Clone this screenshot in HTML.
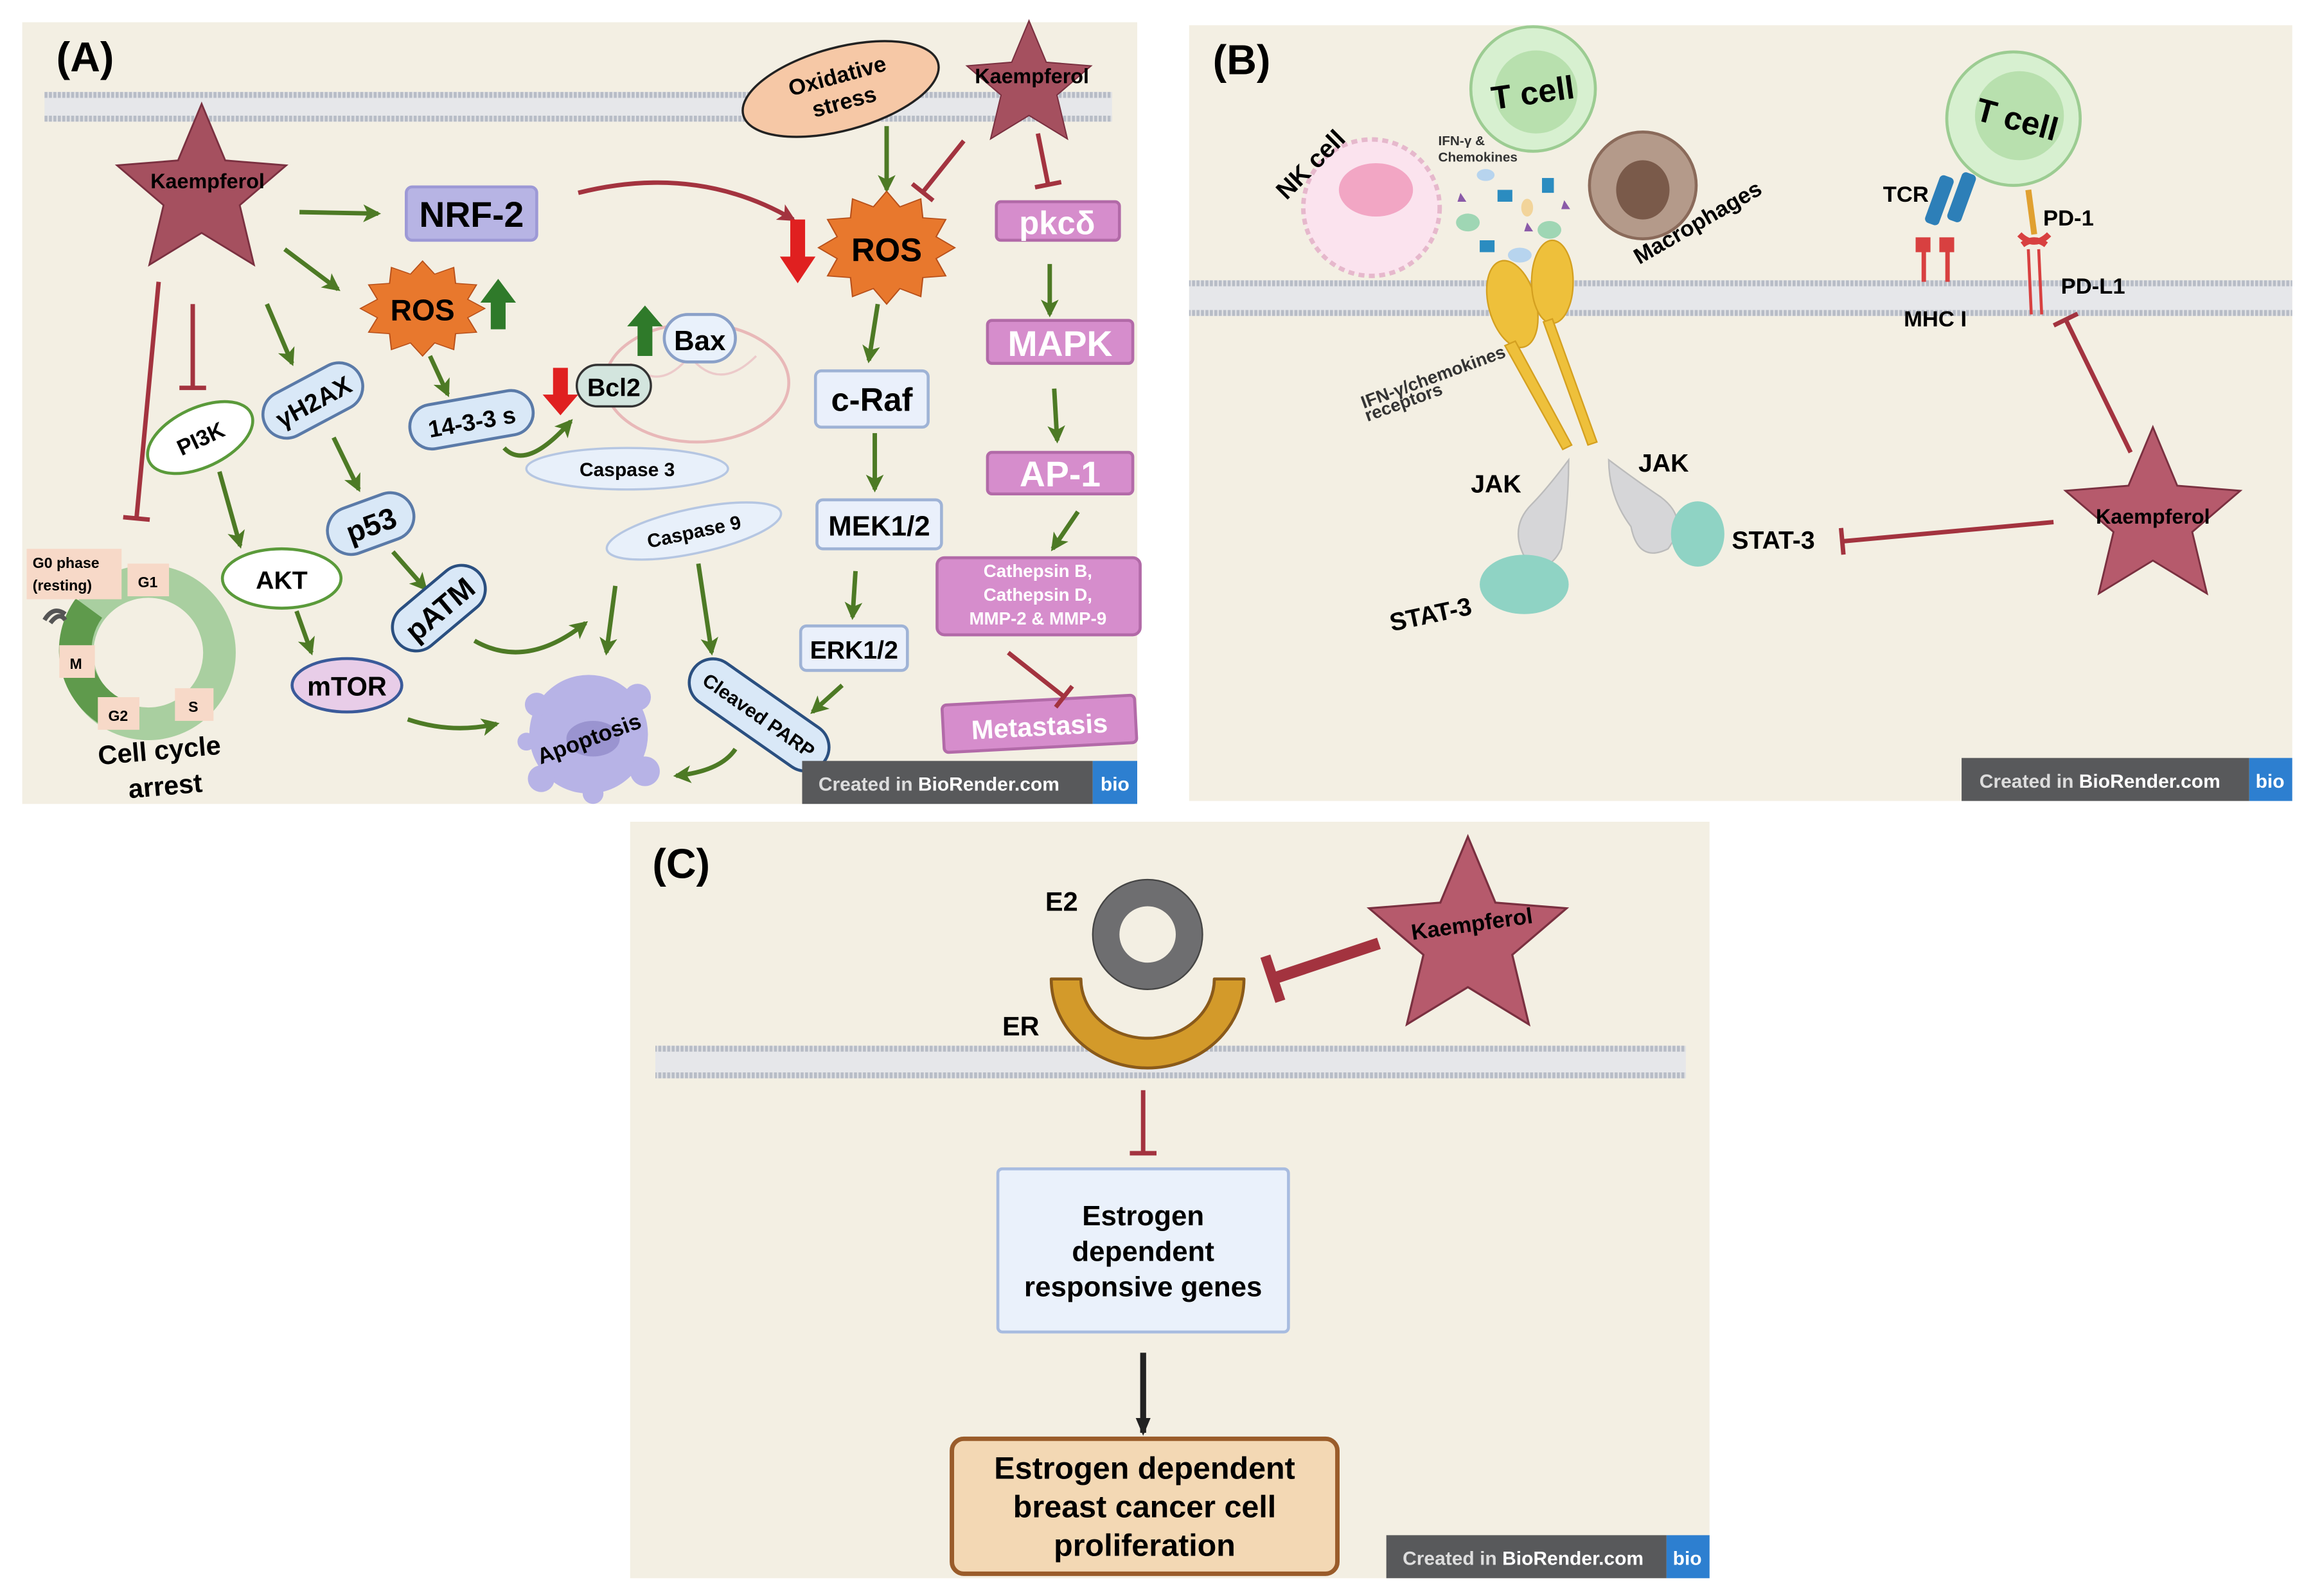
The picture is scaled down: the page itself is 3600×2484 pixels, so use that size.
<!DOCTYPE html>
<html><head><meta charset="utf-8"><style>
html,body{margin:0;padding:0;background:#fff}
svg{display:block}
text{font-family:"Liberation Sans",sans-serif;font-weight:bold}
</style></head><body>
<svg width="3600" height="2484" viewBox="0 0 1560 1076" preserveAspectRatio="none" xmlns="http://www.w3.org/2000/svg">
<defs>
<path id="star" d="M0,-1 L0.265,-0.364 L0.951,-0.309 L0.428,0.139 L0.588,0.809 L0,0.45 L-0.588,0.809 L-0.428,0.139 L-0.951,-0.309 L-0.265,-0.364Z"/>
<path id="burst" d="M1,0 L.725,.194 L.866,.5 L.53,.53 L.5,.866 L.194,.725 L0,1 L-.194,.725 L-.5,.866 L-.53,.53 L-.866,.5 L-.725,.194 L-1,0 L-.725,-.194 L-.866,-.5 L-.53,-.53 L-.5,-.866 L-.194,-.725 L0,-1 L.194,-.725 L.5,-.866 L.53,-.53 L.866,-.5 L.725,-.194Z"/>
<marker id="ag" markerUnits="userSpaceOnUse" markerWidth="14" markerHeight="14" refX="10" refY="7" orient="auto"><path d="M0,1 L12,7 L0,13 L3,7Z" fill="#4d7a25"/></marker>
<marker id="ar" markerUnits="userSpaceOnUse" markerWidth="14" markerHeight="14" refX="10" refY="7" orient="auto"><path d="M0,1 L12,7 L0,13 L3,7Z" fill="#a3333f"/></marker>
<marker id="ak" markerUnits="userSpaceOnUse" markerWidth="14" markerHeight="14" refX="10" refY="7" orient="auto"><path d="M0,2 L12,7 L0,12Z" fill="#222"/></marker>
<marker id="tr" markerUnits="userSpaceOnUse" markerWidth="6" markerHeight="22" refX="3" refY="11" orient="auto"><rect x="1" y="2" width="3" height="18" fill="#a3333f"/></marker>
<marker id="trb" markerUnits="userSpaceOnUse" markerWidth="10" markerHeight="36" refX="5" refY="18" orient="auto"><rect x="1" y="2" width="7" height="32" fill="#a3333f"/></marker>
<pattern id="mem" width="3" height="4" patternUnits="userSpaceOnUse"><rect width="3" height="4" fill="#e3e4e6"/><rect width="2" height="4" fill="#b7bcc6"/></pattern>
</defs>

<!-- Panel backgrounds -->
<rect x="15" y="15" width="752" height="527" fill="#f3efe3"/>
<rect x="802" y="17" width="744" height="523" fill="#f3efe3"/>
<rect x="425" y="554" width="728" height="510" fill="#f3efe3"/>

<!-- membranes -->
<g>
<rect x="30" y="62" width="720" height="20" fill="#e6e7ea"/>
<rect x="30" y="62" width="720" height="4" fill="url(#mem)"/><rect x="30" y="78" width="720" height="4" fill="url(#mem)"/>
<rect x="802" y="189" width="744" height="24" fill="#e6e7ea"/>
<rect x="802" y="189" width="744" height="4" fill="url(#mem)"/><rect x="802" y="209" width="744" height="4" fill="url(#mem)"/>
<rect x="442" y="705" width="695" height="22" fill="#e6e7ea"/>
<rect x="442" y="705" width="695" height="4" fill="url(#mem)"/><rect x="442" y="723" width="695" height="4" fill="url(#mem)"/>
</g>

<!-- ===== PANEL A ===== -->
<text x="38" y="48" font-size="28">(A)</text>

<!-- cell cycle -->
<circle cx="100" cy="440" r="48" fill="none" stroke="#a9cfa0" stroke-width="22"/>
<path d="M60,410 A48,48 0 0 0 75,480" fill="none" stroke="#5f9a4c" stroke-width="22"/>
<rect x="18" y="370" width="64" height="34" fill="#f7d9c8"/>
<text x="22" y="383" font-size="10" font-weight="normal">G0 phase</text>
<text x="22" y="398" font-size="10" font-weight="normal">(resting)</text>
<rect x="86" y="380" width="28" height="22" fill="#f7d9c8"/><text x="93" y="396" font-size="10" font-weight="normal">G1</text>
<rect x="40" y="435" width="24" height="22" fill="#f7d9c8"/><text x="47" y="451" font-size="10" font-weight="normal">M</text>
<rect x="66" y="470" width="28" height="22" fill="#f7d9c8"/><text x="73" y="486" font-size="10" font-weight="normal">G2</text>
<rect x="118" y="464" width="26" height="22" fill="#f7d9c8"/><text x="127" y="480" font-size="10" font-weight="normal">S</text>
<path d="M30,418 q6,-10 14,-4 M34,420 q6,-8 10,-2" stroke="#555" stroke-width="3" fill="none"/>
<text x="108" y="512" font-size="18" text-anchor="middle" transform="rotate(-5 108 512)">Cell cycle</text>
<text x="112" y="536" font-size="18" text-anchor="middle" transform="rotate(-5 112 536)">arrest</text>

<!-- Kaempferol star left -->
<use href="#star" transform="translate(136,130) scale(60)" fill="#a5505f" stroke="#7a3040" stroke-width="0.02"/>
<text x="140" y="127" font-size="14" text-anchor="middle">Kaempferol</text>

<!-- inhibitory lines left -->
<line x1="107" y1="190" x2="92" y2="350" stroke="#a3333f" stroke-width="3" marker-end="url(#tr)"/>
<line x1="130" y1="205" x2="130" y2="262" stroke="#a3333f" stroke-width="3" marker-end="url(#tr)"/>

<!-- green arrows A -->
<g stroke="#4d7a25" stroke-width="3" fill="none" marker-end="url(#ag)">
<line x1="202" y1="143" x2="255" y2="144"/>
<line x1="192" y1="168" x2="228" y2="195"/>
<line x1="180" y1="205" x2="197" y2="245"/>
<line x1="148" y1="318" x2="162" y2="368"/>
<line x1="225" y1="295" x2="242" y2="330"/>
<line x1="200" y1="412" x2="210" y2="440"/>
<line x1="265" y1="372" x2="287" y2="397"/>
<line x1="290" y1="240" x2="302" y2="266"/>
<path d="M340,302 q15,16 45,-18"/>
<path d="M320,432 q35,20 75,-12"/>
<line x1="415" y1="395" x2="409" y2="440"/>
<line x1="471" y1="380" x2="480" y2="440"/>
<path d="M275,485 q30,10 60,3"/>
<path d="M496,505 q-10,15 -40,18"/>
<line x1="568" y1="462" x2="548" y2="480"/>
<line x1="590" y1="292" x2="590" y2="330"/>
<line x1="577" y1="385" x2="575" y2="416"/>
<line x1="592" y1="205" x2="586" y2="243"/>
<line x1="598" y1="85" x2="598" y2="128"/>
<line x1="708" y1="178" x2="708" y2="212"/>
<line x1="711" y1="262" x2="713" y2="297"/>
<line x1="727" y1="345" x2="710" y2="370"/>
</g>

<!-- NRF-2 -->
<rect x="274" y="126" width="88" height="36" rx="4" fill="#b7b4e4" stroke="#9d99d6" stroke-width="2"/>
<text x="318" y="153" font-size="24" text-anchor="middle">NRF-2</text>
<path d="M390,130 Q470,110 535,148" stroke="#a3333f" stroke-width="3" fill="none" marker-end="url(#ar)"/>

<!-- Oxidative stress -->
<ellipse cx="567" cy="60" rx="68" ry="28" transform="rotate(-15 567 60)" fill="#f6c8a6" stroke="#222" stroke-width="1.5"/>
<text x="567" y="56" font-size="15" text-anchor="middle" transform="rotate(-15 567 60)">Oxidative</text>
<text x="567" y="74" font-size="15" text-anchor="middle" transform="rotate(-15 567 60)">stress</text>

<!-- star top right -->
<use href="#star" transform="translate(694,58) scale(44)" fill="#a5505f" stroke="#7a3040" stroke-width="0.02"/>
<text x="696" y="56" font-size="14" text-anchor="middle">Kaempferol</text>
<line x1="650" y1="95" x2="622" y2="130" stroke="#a3333f" stroke-width="3" marker-end="url(#tr)"/>
<line x1="700" y1="90" x2="707" y2="125" stroke="#a3333f" stroke-width="3" marker-end="url(#tr)"/>

<!-- big ROS -->
<use href="#burst" transform="translate(598,167) scale(46,38)" fill="#e8782d" stroke="#b8501a" stroke-width="0.02"/>
<text x="598" y="176" font-size="22" text-anchor="middle">ROS</text>
<path d="M533,148 h10 v25 h7 l-12,18 l-12,-18 h7z" fill="#e02020"/>

<!-- right magenta cascade -->
<g fill="#d68dcc" stroke="#b26aa8" stroke-width="2">
<rect x="672" y="136" width="83" height="26" rx="3"/>
<rect x="666" y="216" width="98" height="29" rx="3"/>
<rect x="666" y="305" width="98" height="28" rx="3"/>
<rect x="632" y="376" width="137" height="52" rx="5"/>
<rect x="636" y="472" width="130" height="32" rx="3" transform="rotate(-3 701 488)"/>
</g>
<g fill="#fff" text-anchor="middle">
<text x="713" y="158" font-size="22" font-weight="normal">pkcδ</text>
<text x="715" y="240" font-size="24" font-weight="normal">MAPK</text>
<text x="715" y="328" font-size="24" font-weight="normal">AP-1</text>
<text x="700" y="389" font-size="12">Cathepsin B,</text>
<text x="700" y="405" font-size="12">Cathepsin D,</text>
<text x="700" y="421" font-size="12">MMP-2 &amp; MMP-9</text>
<text x="701" y="496" font-size="18" transform="rotate(-3 701 488)">Metastasis</text>
</g>
<line x1="680" y1="440" x2="718" y2="470" stroke="#a3333f" stroke-width="3" marker-end="url(#tr)"/>

<!-- MAPK cascade -->
<g fill="#eaf0fb" stroke="#9fb3d6" stroke-width="2">
<rect x="550" y="250" width="76" height="38" rx="4"/>
<rect x="551" y="337" width="84" height="33" rx="4"/>
<rect x="540" y="422" width="72" height="30" rx="4"/>
</g>
<text x="588" y="277" font-size="22" text-anchor="middle">c-Raf</text>
<text x="593" y="361" font-size="19" text-anchor="middle">MEK1/2</text>
<text x="576" y="444" font-size="17" text-anchor="middle">ERK1/2</text>

<!-- small ROS -->
<use href="#burst" transform="translate(285,208) scale(42,32)" fill="#e8782d" stroke="#b8501a" stroke-width="0.02"/>
<text x="285" y="216" font-size="20" text-anchor="middle">ROS</text>
<path d="M331,222 h10 v-18 h7 l-12,-16 l-12,16 h7z" fill="#2f7a2a"/>

<!-- mitochondrion -->
<ellipse cx="470" cy="258" rx="62" ry="40" fill="none" stroke="#e8b8b8" stroke-width="2"/>
<path d="M425,245 q20,20 40,-5 q20,25 45,0" fill="none" stroke="#eccaca" stroke-width="1.5"/>
<rect x="448" y="212" width="48" height="32" rx="16" fill="#e9f1fb" stroke="#8aa0c8" stroke-width="2"/>
<text x="472" y="236" font-size="19" text-anchor="middle">Bax</text>
<path d="M430,240 h10 v-20 h7 l-12,-14 l-12,14 h7z" fill="#2f7a2a"/>
<rect x="389" y="246" width="50" height="28" rx="14" fill="#d3e5de" stroke="#333" stroke-width="1.5"/>
<text x="414" y="267" font-size="17" text-anchor="middle">Bcl2</text>
<path d="M373,248 h10 v18 h7 l-12,14 l-12,-14 h7z" fill="#e02020"/>

<!-- 14-3-3 s -->
<g transform="rotate(-10 318 283)"><rect x="276" y="268" width="84" height="30" rx="15" fill="#d9e8f7" stroke="#5a7aa8" stroke-width="2"/>
<text x="318" y="290" font-size="16" text-anchor="middle">14-3-3 s</text></g>

<!-- caspases -->
<ellipse cx="423" cy="316" rx="68" ry="14" fill="#e8f0fa" stroke="#b5c6e2" stroke-width="1.5"/>
<text x="423" y="321" font-size="13" text-anchor="middle">Caspase 3</text>
<ellipse cx="468" cy="358" rx="60" ry="15" transform="rotate(-12 468 358)" fill="#e8f0fa" stroke="#b5c6e2" stroke-width="1.5"/>
<text x="468" y="363" font-size="13" text-anchor="middle" transform="rotate(-12 468 358)">Caspase 9</text>

<!-- Cleaved PARP -->
<g transform="rotate(35 512 482)"><rect x="458" y="466" width="108" height="32" rx="16" fill="#d9e8f7" stroke="#2a4f80" stroke-width="2"/>
<text x="512" y="487" font-size="13" text-anchor="middle">Cleaved PARP</text></g>

<!-- apoptosis -->
<circle cx="397" cy="495" r="40" fill="#b7b3e6"/>
<circle cx="362" cy="475" r="8" fill="#b7b3e6"/><circle cx="430" cy="470" r="9" fill="#b7b3e6"/>
<circle cx="435" cy="520" r="10" fill="#b7b3e6"/><circle cx="365" cy="525" r="9" fill="#b7b3e6"/>
<circle cx="400" cy="535" r="7" fill="#b7b3e6"/><circle cx="355" cy="500" r="6" fill="#b7b3e6"/>
<ellipse cx="400" cy="498" rx="18" ry="12" fill="#9a94d0"/>
<text x="398" y="503" font-size="15" text-anchor="middle" transform="rotate(-20 398 500)">Apoptosis</text>

<!-- PI3K, yH2AX, p53, AKT, pATM, mTOR -->
<ellipse cx="135" cy="295" rx="38" ry="20" transform="rotate(-25 135 295)" fill="#fff" stroke="#5a9a3a" stroke-width="2"/>
<text x="135" y="301" font-size="15" text-anchor="middle" transform="rotate(-25 135 295)">PI3K</text>
<g transform="rotate(-28 211 270)"><rect x="175" y="254" width="72" height="32" rx="16" fill="#d9e8f7" stroke="#5a7aa8" stroke-width="2"/>
<text x="211" y="277" font-size="17" text-anchor="middle">γH2AX</text></g>
<g transform="rotate(-20 250 353)"><rect x="220" y="337" width="60" height="32" rx="16" fill="#d9e8f7" stroke="#5a7aa8" stroke-width="2"/>
<text x="250" y="361" font-size="20" text-anchor="middle">p53</text></g>
<ellipse cx="190" cy="390" rx="40" ry="20" fill="#fff" stroke="#5a9a3a" stroke-width="2"/>
<text x="190" y="397" font-size="17" text-anchor="middle">AKT</text>
<g transform="rotate(-40 296 410)"><rect x="260" y="394" width="72" height="32" rx="16" fill="#d9e8f7" stroke="#2a4f80" stroke-width="2"/>
<text x="296" y="418" font-size="20" text-anchor="middle">pATM</text></g>
<ellipse cx="234" cy="462" rx="37" ry="18" fill="#e8cde8" stroke="#3a5a9a" stroke-width="2"/>
<text x="234" y="469" font-size="18" text-anchor="middle">mTOR</text>

<!-- Badge A -->
<rect x="541" y="513" width="196" height="29" fill="#58595b"/><rect x="737" y="513" width="30" height="29" fill="#2d7fd0"/>
<text x="552" y="533" font-size="13" fill="#ddd" font-weight="normal">Created in <tspan font-weight="bold" fill="#fff">BioRender.com</tspan></text>
<text x="752" y="533" font-size="13" fill="#fff" text-anchor="middle">bio</text>

<!-- ===== PANEL B ===== -->
<text x="818" y="50" font-size="28">(B)</text>
<!-- NK cell -->
<circle cx="925" cy="140" r="46" fill="#fbe3ee" stroke="#e6b8cc" stroke-width="3" stroke-dasharray="4 3"/>
<ellipse cx="928" cy="128" rx="25" ry="18" fill="#f2a6c4"/>
<text x="888" y="115" font-size="17" text-anchor="middle" transform="rotate(-45 888 115)">NK cell</text>
<!-- T cell 1 -->
<circle cx="1034" cy="60" r="42" fill="#d7f0d0" stroke="#9ccc92" stroke-width="2"/>
<circle cx="1036" cy="62" r="28" fill="#b8e0ae"/>
<text x="1034" y="70" font-size="22" text-anchor="middle" transform="rotate(-8 1034 64)">T cell</text>
<text x="970" y="98" font-size="9" fill="#333">IFN-γ &amp;</text>
<text x="970" y="109" font-size="9" fill="#333">Chemokines</text>
<!-- cytokines -->
<g>
<ellipse cx="990" cy="150" rx="8" ry="6" fill="#9fd6b4"/><ellipse cx="1045" cy="155" rx="8" ry="6" fill="#9fd6b4"/>
<rect x="1010" y="128" width="10" height="8" fill="#2b8cc0"/><rect x="1040" y="120" width="8" height="10" fill="#2b8cc0"/>
<rect x="998" y="162" width="10" height="8" fill="#2b8cc0"/><ellipse cx="1025" cy="172" rx="8" ry="5" fill="#b7d4ee"/>
<ellipse cx="1002" cy="118" rx="6" ry="4" fill="#b7d4ee"/><ellipse cx="1030" cy="140" rx="4" ry="6" fill="#f2d49a"/>
<path d="M985,130 l4,6 l-6,0z M1030,150 l4,6 l-6,0z M1055,135 l4,6 l-6,0z" fill="#8a5aa8"/>
</g>
<!-- macrophage -->
<circle cx="1108" cy="125" r="36" fill="#b49a8a" stroke="#8a6a5a" stroke-width="2"/>
<ellipse cx="1108" cy="128" rx="18" ry="20" fill="#7a5a4a"/>
<text x="1145" y="155" font-size="15" text-anchor="middle" transform="rotate(-30 1145 150)">Macrophages</text>
<!-- receptors -->
<g fill="#eec03b" stroke="#d4a020" stroke-width="1">
<ellipse cx="1020" cy="205" rx="16" ry="30" transform="rotate(-15 1020 205)"/>
<ellipse cx="1047" cy="190" rx="14" ry="28"/>
<path d="M1022,230 L1060,300 L1054,303 L1015,233Z"/>
<path d="M1047,215 L1077,298 L1071,300 L1041,217Z"/>
</g>
<text x="968" y="258" font-size="12" text-anchor="middle" transform="rotate(-20 968 258)" fill="#333">IFN-γ/chemokines</text>
<text x="948" y="275" font-size="12" text-anchor="middle" transform="rotate(-20 948 275)" fill="#333">receptors</text>
<!-- JAK / STAT -->
<path d="M1058,310 q-15,20 -25,30 q-15,15 -5,35 q15,15 25,-5 q5,-30 5,-60z" fill="#d6d6d8" stroke="#bbb"/>
<path d="M1085,310 q20,15 35,25 q20,15 5,35 q-20,10 -25,-15 q-15,-20 -15,-45z" fill="#d6d6d8" stroke="#bbb"/>
<ellipse cx="1028" cy="394" rx="30" ry="20" fill="#8fd3c4"/>
<ellipse cx="1145" cy="360" rx="18" ry="22" fill="#8fd3c4"/>
<text x="992" y="332" font-size="17">JAK</text>
<text x="1105" y="318" font-size="17">JAK</text>
<text x="965" y="420" font-size="17" text-anchor="middle" transform="rotate(-12 965 415)">STAT-3</text>
<text x="1168" y="370" font-size="17">STAT-3</text>
<!-- right T cell -->
<circle cx="1358" cy="80" r="45" fill="#d7f0d0" stroke="#9ccc92" stroke-width="2"/>
<circle cx="1362" cy="78" r="30" fill="#b8e0ae"/>
<text x="1360" y="88" font-size="22" text-anchor="middle" transform="rotate(15 1360 82)">T cell</text>
<rect x="1303" y="118" width="10" height="34" rx="3" fill="#2d7fb8" transform="rotate(20 1308 135)"/>
<rect x="1318" y="116" width="10" height="34" rx="3" fill="#2d7fb8" transform="rotate(20 1323 133)"/>
<path d="M1292,160 h10 v10 h-3 v20 h-3 v-20 h-4z M1308,160 h10 v10 h-3 v20 h-3 v-20 h-4z" fill="#d84040"/>
<text x="1270" y="136" font-size="15">TCR</text>
<text x="1284" y="220" font-size="15">MHC I</text>
<line x1="1368" y1="128" x2="1372" y2="158" stroke="#e0a030" stroke-width="4"/>
<path d="M1362,158 q10,10 20,0 M1364,165 q8,-6 16,0" stroke="#d84040" stroke-width="4" fill="none"/>
<line x1="1368" y1="168" x2="1370" y2="212" stroke="#d84040" stroke-width="2"/>
<line x1="1375" y1="168" x2="1377" y2="212" stroke="#d84040" stroke-width="2"/>
<text x="1378" y="152" font-size="15">PD-1</text>
<text x="1390" y="198" font-size="15">PD-L1</text>
<use href="#star" transform="translate(1452,350) scale(62)" fill="#b65a6c" stroke="#7a3040" stroke-width="0.02"/>
<text x="1452" y="353" font-size="14" text-anchor="middle">Kaempferol</text>
<line x1="1437" y1="305" x2="1393" y2="215" stroke="#a3333f" stroke-width="3" marker-end="url(#tr)"/>
<line x1="1385" y1="352" x2="1242" y2="365" stroke="#a3333f" stroke-width="3" marker-end="url(#tr)"/>
<!-- Badge B -->
<rect x="1323" y="511" width="194" height="29" fill="#58595b"/><rect x="1517" y="511" width="29" height="29" fill="#2d7fd0"/>
<text x="1335" y="531" font-size="13" fill="#ddd" font-weight="normal">Created in <tspan font-weight="bold" fill="#fff">BioRender.com</tspan></text>
<text x="1531" y="531" font-size="13" fill="#fff" text-anchor="middle">bio</text>

<!-- ===== PANEL C ===== -->
<text x="440" y="592" font-size="28">(C)</text>
<path d="M709,660 A65,60 0 0 0 839,660 L819,660 A45,40 0 0 1 729,660 Z" fill="#d39a2a" stroke="#8a5a1a" stroke-width="2" stroke-linejoin="round"/>
<circle cx="774" cy="630" r="28" fill="none" stroke="#6e6e70" stroke-width="18"/>
<circle cx="774" cy="630" r="37" fill="none" stroke="#444" stroke-width="1"/>
<text x="705" y="614" font-size="18">E2</text>
<text x="676" y="698" font-size="18">ER</text>
<use href="#star" transform="translate(990,634) scale(70)" fill="#b65a6c" stroke="#7a3040" stroke-width="0.02"/>
<text x="993" y="628" font-size="15" text-anchor="middle" transform="rotate(-8 993 625)">Kaempferol</text>
<line x1="930" y1="636" x2="858" y2="660" stroke="#a3333f" stroke-width="8" marker-end="url(#trb)"/>
<line x1="771" y1="735" x2="771" y2="778" stroke="#a3333f" stroke-width="3" marker-end="url(#tr)"/>
<rect x="673" y="788" width="196" height="110" rx="3" fill="#eaf1fb" stroke="#a8bce0" stroke-width="2"/>
<text x="771" y="826" font-size="19" text-anchor="middle">Estrogen</text>
<text x="771" y="850" font-size="19" text-anchor="middle">dependent</text>
<text x="771" y="874" font-size="19" text-anchor="middle">responsive genes</text>
<line x1="771" y1="912" x2="771" y2="966" stroke="#222" stroke-width="4" marker-end="url(#ak)"/>
<rect x="642" y="970" width="260" height="91" rx="8" fill="#f3d8b4" stroke="#9a5c2a" stroke-width="3"/>
<text x="772" y="997" font-size="21" text-anchor="middle">Estrogen dependent</text>
<text x="772" y="1023" font-size="21" text-anchor="middle">breast cancer cell</text>
<text x="772" y="1049" font-size="21" text-anchor="middle">proliferation</text>
<!-- Badge C -->
<rect x="935" y="1035" width="189" height="29" fill="#58595b"/><rect x="1124" y="1035" width="29" height="29" fill="#2d7fd0"/>
<text x="946" y="1055" font-size="13" fill="#ddd" font-weight="normal">Created in <tspan font-weight="bold" fill="#fff">BioRender.com</tspan></text>
<text x="1138" y="1055" font-size="13" fill="#fff" text-anchor="middle">bio</text>
</svg>
</body></html>
